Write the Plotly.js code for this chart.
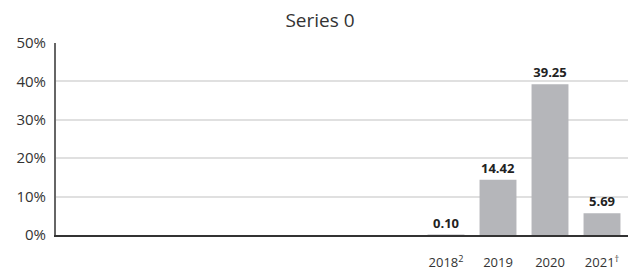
<!DOCTYPE html>
<html>
<head>
<meta charset="utf-8">
<script src="https://cdn.plot.ly/plotly-3.0.1.min.js"></script>
<style>html,body{margin:0;padding:0;background:#fff;}#chart{width:628px;height:272px;}</style>
</head>
<body>
<div id="chart"></div>
<script>
// Categories (first seven slots are empty on the original axis)
const categories = ["", "", "", "", "", "", "", "2018<sup>2</sup>", "2019", "2020", "2021<sup>†</sup>"];
const values = [null, null, null, null, null, null, null, 0.10, 14.42, 39.25, 5.69];
const valueLabels = ["", "", "", "", "", "", "", "0.10", "14.42", "39.25", "5.69"];
const yTicks = [0, 10, 20, 30, 40, 50];
const yTickText = ["0%", "10%", "20%", "30%", "40%", "50%"];

const xIdx = categories.map((c, i) => i);
const labelIdx = xIdx.filter(i => categories[i] !== "");

const trace = {
  type: "bar",
  x: xIdx,
  y: values,
  text: valueLabels.map(t => t ? "<b>" + t + "</b>" : ""),
  textposition: "outside",
  cliponaxis: false,
  textfont: {family: "Open Sans, sans-serif", size: 13, color: "#222"},
  marker: {color: "#b5b6ba"},
  hoverinfo: "skip"
};

const layout = {
  width: 628, height: 272,
  margin: {l: 56, r: 0, t: 43, b: 37},
  paper_bgcolor: "#fff", plot_bgcolor: "#fff",
  showlegend: false,
  bargap: 0.29,
  title: {text: "Series 0", x: 320/628, xref: "container", xanchor: "center",
          y: 0.925, yref: "container", yanchor: "middle",
          font: {family: "Open Sans, sans-serif", size: 19, color: "#333"}},
  xaxis: {
    range: [-0.5, 10.5],
    tickmode: "array",
    tickvals: labelIdx,
    ticktext: labelIdx.map(i => categories[i]),
    ticks: "outside", ticklen: 15, tickcolor: "rgba(0,0,0,0)",
    showgrid: false, zeroline: false,
    showline: true, linecolor: "#333", linewidth: 1.5,
    tickfont: {family: "Open Sans, sans-serif", size: 13, color: "#333"},
    fixedrange: true
  },
  yaxis: {
    range: [0, 50],
    tickmode: "array",
    tickvals: yTicks,
    ticktext: yTickText,
    showgrid: true, gridcolor: "#e0e0e0", gridwidth: 2,
    zeroline: false,
    showline: true, linecolor: "#666", linewidth: 2,
    ticks: "outside", ticklen: 5, tickcolor: "rgba(0,0,0,0)",
    tickfont: {family: "Open Sans, sans-serif", size: 15, color: "#333"},
    fixedrange: true
  }
};

Plotly.newPlot("chart", [trace], layout, {displayModeBar: false, staticPlot: true});
</script>
</body>
</html>
